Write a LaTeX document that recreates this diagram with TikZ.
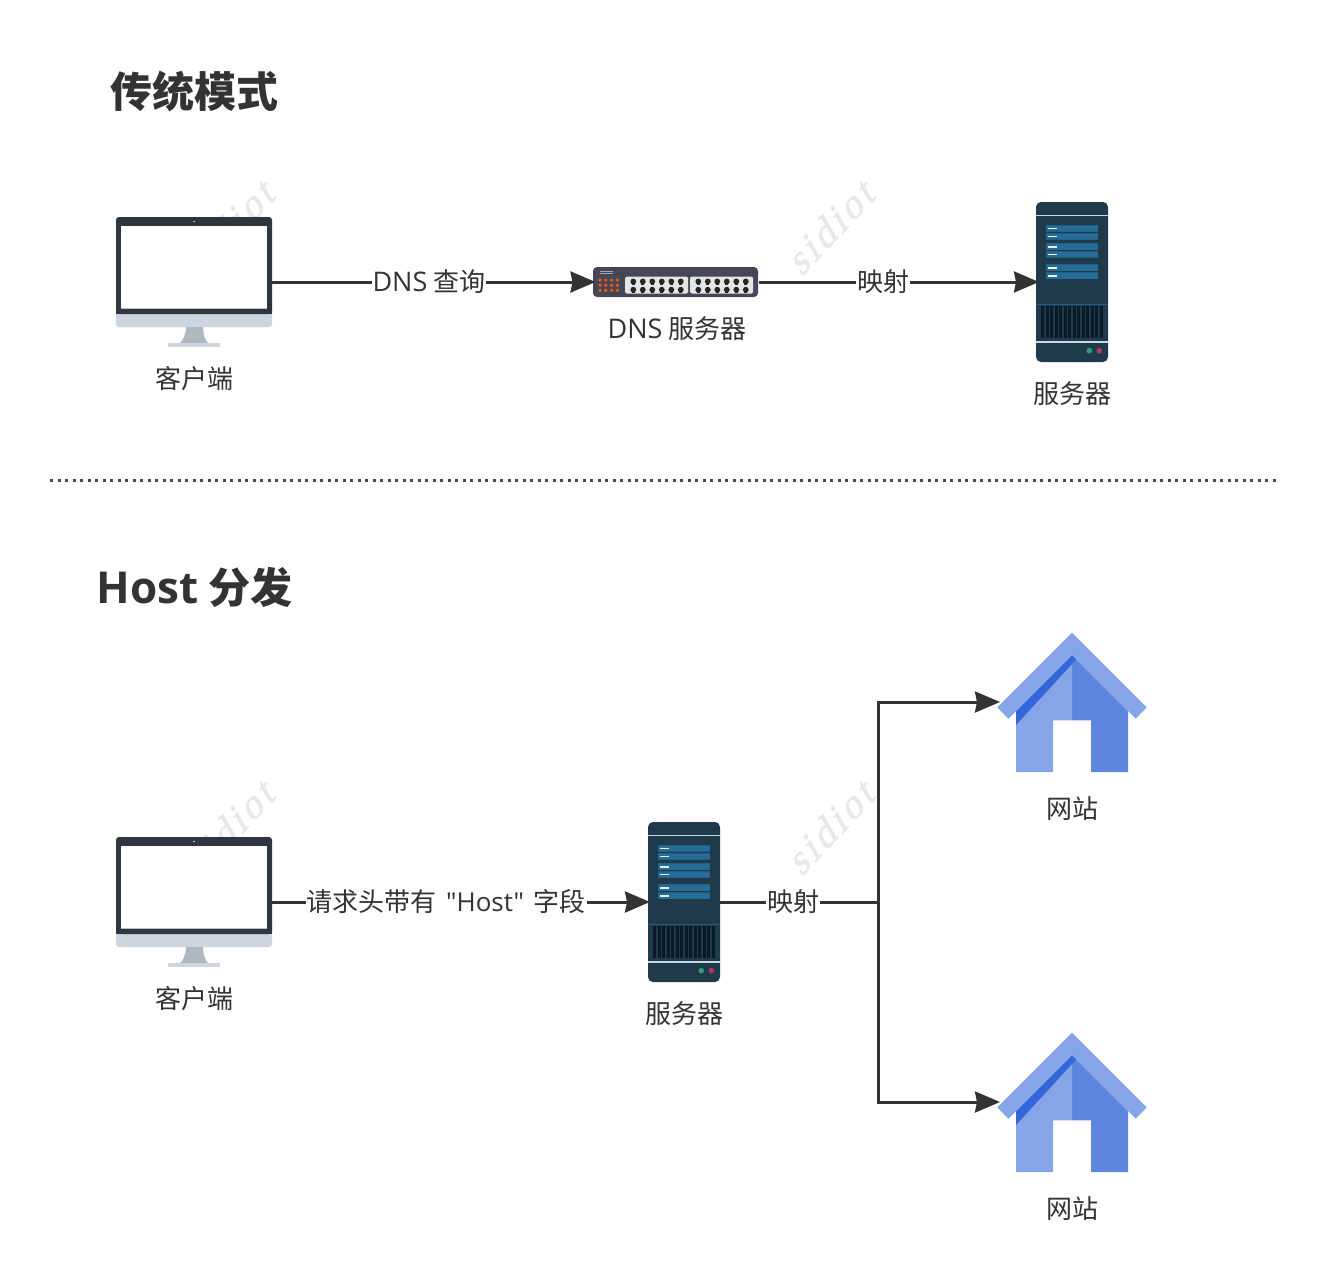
\documentclass[tikz,border=0pt]{standalone}
\usepackage{fontspec}
\setmainfont{Noto Sans CJK SC}
\newfontfamily\lat{Open Sans}
\newfontfamily\wmfont[LetterSpace=10,FakeBold=1.3,FakeSlant=0.3]{Liberation Serif}
\usetikzlibrary{arrows.meta}
\newcommand{\latbig}[1]{{\fontsize{27}{30}\selectfont\lat #1}}
\definecolor{ink}{HTML}{333333}
\definecolor{monDark}{HTML}{2E3642}
\definecolor{monChin}{HTML}{CDD6E0}
\definecolor{monStand}{HTML}{AEB8C0}
\definecolor{swBody}{HTML}{44465A}
\definecolor{srvBody}{HTML}{1F3A4A}
\definecolor{srvBar}{HTML}{256C96}
\definecolor{srvLine}{HTML}{C9D8DF}
\definecolor{srvVent}{HTML}{0A1A26}
\definecolor{srvGreen}{HTML}{2E9E78}
\definecolor{srvRed}{HTML}{B5385A}
\definecolor{houseL}{HTML}{85A5E8}
\definecolor{houseR}{HTML}{5E86DE}
\definecolor{houseS}{HTML}{3367D9}
\definecolor{wmGrey}{HTML}{E8E8E8}
\tikzset{
  lbl/.style={text=ink,font=\fontsize{26}{30}\selectfont,inner sep=0pt},
  ttl/.style={text=ink,font=\fontsize{42}{48}\selectfont\bfseries,inner sep=0pt},
  iconbox/.style={inner sep=0pt,outer sep=0pt,minimum width=#1},
  conn/.style={draw=ink,line width=3pt,-{Stealth[length=25pt,width=21pt,inset=2pt]}},
  edgelbl/.style={lbl,fill=white,inner xsep=1pt,inner ysep=2pt},
  wm/.style={text=wmGrey,rotate=46.5,font=\fontsize{40}{44}\selectfont\wmfont,inner sep=0pt},
  monitor/.pic={
    \fill[monChin,rounded corners=3pt] (-78,15) rectangle (78,45);
    \fill[monDark,rounded corners=3pt] (-78,-65) -- (78,-65) -- (78,32) -- (-78,32) -- cycle;
    \fill[monDark] (-78,20) rectangle (78,32);
    \fill[white] (-73,-56) rectangle (73,27);
    \fill[white!75!black] (-73,26.3) rectangle (73,27);
    \fill[white!80!black] (-0.8,-61.3) rectangle (0.8,-59.7);
    \fill[monStand] (-8,45) -- (9,45) .. controls (9.5,54) and (11,58) .. (14,61) -- (-14,61) .. controls (-11,58) and (-8.5,54) .. (-8,45) -- cycle;
    \fill[monChin] (-26,61) rectangle (26,65);
  },
  switchicon/.pic={
    \fill[swBody,rounded corners=4pt] (-83,-15) rectangle (82,15);
    \draw[black!75,line width=1pt] (-78,-14.6) -- (77,-14.6);
    \draw[white!50!swBody,line width=0.6pt] (-76,-10.5) -- (-63,-10.5) (-76,-8.5) -- (-63,-8.5);
    \foreach \cx in {-76,-70.2,-64.4,-58.6}\foreach \cy in {-2,3.2,8.4}
      \fill[orange!70!red] (\cx,\cy) circle (1.8);
    \foreach \px in {-51,14}{
      \fill[white!90!black,rounded corners=1.5pt] (\px,-5.5) rectangle ++(63,17);
      \foreach \i in {0,...,5}\foreach \cy in {-0.5,7.7}{
        \fill[black!85] ({\px+8.3+\i*9.5},\cy) circle (2.9);
        \fill[black!85] ({\px+8.3+\i*9.5-1.4},{\cy}) rectangle ++(2.8,3.2);
      }
    }
  },
  servericon/.pic={
    \fill[srvBody,rounded corners=5pt] (-36,-80) rectangle (36,80);
    \fill[srvLine] (-36,-67.5) rectangle (36,-66);
    \fill[srvLine] (-36,59.2) rectangle (36,60.7);
    \fill[srvBar!70!srvBody] (-36,22) rectangle (36,23.2);
    \foreach \y in {-57,-49,-38.7,-31,-17.7,-9.7}{
      \fill[srvBar!75!srvBody] (-26,\y) rectangle (26,\y+7);
      \fill[srvBar] (-25.5,\y+0.6) rectangle (26,\y+6.4);
      \fill[white!90!srvBar] (-24.5,\y+2.6) rectangle (-15,\y+4.4);
    }
    \foreach \i in {0,...,13}
      \fill[srvVent] ({-31+\i*4.5},24) rectangle ++(3,32);
    \fill[srvGreen] (17.3,68.7) circle (2.8);
    \fill[srvRed] (27.3,68.7) circle (2.8);
  },
  houseicon/.pic={
    \fill[houseR] (0,-47) -- (56,9) -- (56,70) -- (19,70) -- (19,18.3) -- (0,18.3) -- cycle;
    \fill[houseL] (0,-47) -- (-56,9) -- (-56,70) -- (-19,70) -- (-19,18.3) -- (0,18.3) -- cycle;
    \fill[houseS] (-56,9) -- (0,-47) -- (4.3,-42.7) -- (0,-38) -- (-56,23) -- cycle;
    \fill[houseL] (0,-69.3) -- (74.7,5.3) -- (63.7,16.7) -- (0,-47) -- (-63.7,16.7) -- (-74.7,5.3) -- cycle;
  }
}
\begin{document}
\begin{tikzpicture}[x=1pt,y=-1pt]
\useasboundingbox (0,0) rectangle (1330,1287);
\fill[white] (0,0) rectangle (1330,1287);
% watermarks
\node[wm] (wm1) at (229,228) {sidiot};
\node[wm] (wm2) at (829,228) {sidiot};
\node[wm] (wm3) at (229,828) {sidiot};
\node[wm] (wm4) at (829,828) {sidiot};
% titles
\node[ttl] (t1) at (194,91) {传统模式};
\node[ttl] (t2) at (194.5,587) {{\fontsize{44}{48}\selectfont\lat Host} 分发};
% divider
\coordinate (divL) at (50,480);
\coordinate (divR) at (1277,480);
\draw[ink!90,line width=3pt,dash pattern=on 3pt off 4.5pt] (divL) -- (divR);
% icon anchors
\node[iconbox=156pt,minimum height=130pt] (c1) at (194,282) {};
\node[iconbox=165pt,minimum height=30pt] (sw) at (676,282) {};
\node[iconbox=72pt,minimum height=160pt] (s1) at (1072,282) {};
\node[iconbox=156pt,minimum height=130pt] (c2) at (194,902) {};
\node[iconbox=72pt,minimum height=160pt] (s2) at (684,902) {};
\node[iconbox=144pt,minimum height=140pt] (h1) at (1072,702) {};
\node[iconbox=144pt,minimum height=140pt] (h2) at (1072,1102) {};
\coordinate (bus) at (878,902);
\pic at (c1) {monitor};
\pic at (sw) {switchicon};
\pic at (s1) {servericon};
\pic at (c2) {monitor};
\pic at (s2) {servericon};
\pic at (h1) {houseicon};
\pic at (h2) {houseicon};
% icon labels
\node[lbl] (lc1) at (194,379) {客户端};
\node[lbl] (lsw) at (677,329) {\latbig{DNS} 服务器};
\node[lbl] (ls1) at (1072,394) {服务器};
\node[lbl] (lc2) at (194,999) {客户端};
\node[lbl] (ls2) at (684,1014) {服务器};
\node[lbl] (lh1) at (1072,809) {网站};
\node[lbl] (lh2) at (1072,1209) {网站};
% connectors
\draw[conn,shorten >=-2pt] (c1.east) -- node[edgelbl,pos=0.488] (e1) {\latbig{DNS} 查询} (sw.west);
\draw[conn,shorten >=-3pt] (sw.east) -- node[edgelbl,pos=0.45] (e2) {映射} (s1.west);
\draw[conn,shorten >=-2pt] (c2.east) -- node[edgelbl,pos=0.463] (e3) {请求头带有\hspace{9.5pt}{\lat\char34 Host\char34}\hspace{9.5pt}字段} (s2.west);
\draw[ink,line width=3pt] (s2.east) -- node[edgelbl,pos=0.465] (e4) {映射} (bus);
\draw[conn] (bus) |- (h1.west);
\draw[conn] (bus) |- (h2.west);
\end{tikzpicture}
\end{document}
